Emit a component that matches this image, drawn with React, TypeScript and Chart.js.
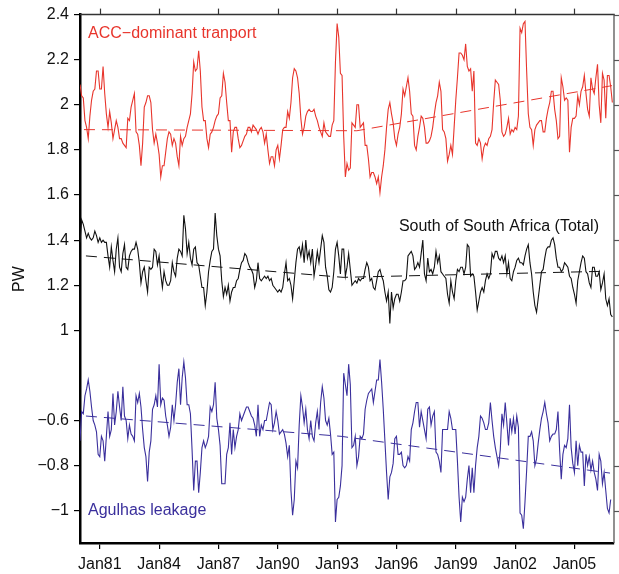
import React, { useEffect, useRef } from "react";
import { Chart, registerables } from "chart.js";

Chart.register(...registerables);

// Monthly series, Jan 1980 onwards
const START_YEAR = 1980;
const MONTHS_PER_YEAR = 12;

const ACC_TRANSPORT = [
  2.09, 2.04, 2.03, 1.93, 1.90, 1.85, 1.95, 2.02, 2.06, 2.07,
  2.15, 2.15, 2.07, 2.07, 2.17, 2.05, 1.96, 1.90, 1.97,
  1.92, 1.85, 1.89, 1.93, 1.90, 1.85, 1.85, 1.83, 1.82, 1.81,
  1.94, 1.93, 1.99, 2.02, 2.05, 1.88, 1.87, 1.82, 1.73, 1.83,
  1.99, 2.01, 2.04, 2.04, 2.01, 1.89, 1.83, 1.87, 1.83, 1.78,
  1.68, 1.73, 1.73, 1.79, 1.85, 1.88, 1.87, 1.82, 1.85,
  1.83, 1.77, 1.73, 1.86, 1.82, 1.85, 1.86, 1.90, 1.93, 1.96,
  2.05, 2.19, 2.15, 2.16, 2.24, 2.15, 1.99, 1.93, 1.93, 1.85,
  1.81, 1.87, 1.88, 1.90, 1.93, 1.95, 1.96, 2.03, 2.04, 2.14,
  2.10, 2.01, 1.93, 1.93, 1.79, 1.88, 1.90, 1.90, 1.85,
  1.81, 1.82, 1.84, 1.86, 1.87, 1.90, 1.90, 1.88, 1.91, 1.90,
  1.89, 1.87, 1.89, 1.90, 1.88, 1.83, 1.87, 1.80, 1.74, 1.77,
  1.77, 1.73, 1.80, 1.82, 1.76, 1.82, 1.89, 1.90, 1.90, 1.97,
  1.94, 2.01, 2.12, 2.16, 2.15, 2.12, 2.05, 1.94, 1.87, 1.90,
  1.95, 1.97, 1.98, 1.97, 1.97, 1.98, 1.95, 1.93, 1.90, 1.88,
  1.86, 1.92, 1.88, 1.87, 1.86, 1.86, 1.91, 1.93, 2.19, 2.36,
  2.30, 2.14, 2.13, 1.86, 1.68, 1.74, 1.71, 1.72, 1.92, 1.91,
  1.90, 2.00, 2.00, 1.90, 1.91, 1.92, 1.82, 1.82, 1.76, 1.68,
  1.70, 1.70, 1.68, 1.65, 1.68, 1.61, 1.68, 1.73, 1.80, 1.90,
  1.98, 2.01, 1.96, 1.92, 1.85, 1.82, 1.87, 1.90, 1.96, 2.07,
  2.04, 2.08, 2.12, 2.06, 1.96, 1.95, 1.82, 1.80, 1.86, 1.90,
  1.95, 1.94, 1.90, 1.83, 1.83, 1.84, 1.86, 1.90, 1.96, 2.01,
  2.04, 2.10, 2.06, 1.89, 1.88, 1.85, 1.75, 1.78, 1.82, 1.78,
  1.90, 2.02, 2.12, 2.23, 2.23, 2.22, 2.20, 2.27, 2.17, 2.15,
  2.16, 2.06, 2.15, 1.83, 1.82, 1.85, 1.83, 1.76, 1.81, 1.83,
  1.82, 1.85, 1.86, 1.89, 2.01, 2.11, 2.10, 2.09, 2.02, 1.88,
  1.86, 1.87, 1.90, 1.94, 1.87, 1.89, 1.88, 1.90, 1.89, 1.95,
  2.34, 2.32, 2.36, 2.37, 2.15, 1.96, 1.90, 1.89, 1.82, 1.89,
  1.91, 1.92, 1.93, 1.93, 1.88, 1.88, 1.94, 1.98, 2.01, 2.06,
  2.06, 1.98, 1.93, 1.85, 1.86, 2.12, 2.08, 2.02, 2.03, 2.02,
  1.79, 1.90, 1.94, 1.94, 1.95, 2.04, 2.00, 2.06, 2.08, 2.13,
  2.05, 1.98, 1.95, 2.12, 2.07, 2.05, 2.12, 2.18, 2.00, 1.92,
  2.14, 2.11, 1.94, 2.13, 2.13, 2.08, 2.01,
];

const TOTAL_TRANSPORT = [
  1.39, 1.49, 1.47, 1.44, 1.41, 1.43, 1.41, 1.40, 1.41, 1.44,
  1.42, 1.39, 1.41, 1.39, 1.40, 1.39, 1.39, 1.33, 1.28, 1.37,
  1.31, 1.26, 1.36, 1.41, 1.28, 1.26, 1.34, 1.38, 1.28, 1.27,
  1.33, 1.35, 1.36, 1.36, 1.39, 1.36, 1.30, 1.21, 1.26, 1.28,
  1.22, 1.17, 1.28, 1.27, 1.28, 1.36, 1.35, 1.29, 1.33, 1.25,
  1.19, 1.26, 1.22, 1.20, 1.20, 1.22, 1.30, 1.26, 1.24, 1.32,
  1.36, 1.35, 1.33, 1.51, 1.45, 1.34, 1.39, 1.32, 1.29, 1.36,
  1.37, 1.30, 1.29, 1.24, 1.19, 1.19, 1.11, 1.17, 1.26, 1.31,
  1.35, 1.36, 1.52, 1.42, 1.36, 1.33, 1.22, 1.15, 1.19, 1.16,
  1.20, 1.13, 1.17, 1.19, 1.19, 1.22, 1.23, 1.27, 1.30, 1.31,
  1.34, 1.33, 1.30, 1.28, 1.27, 1.25, 1.19, 1.22, 1.30, 1.23,
  1.22, 1.23, 1.24,
  1.23, 1.24, 1.22, 1.23, 1.20, 1.19, 1.18, 1.17,
  1.18, 1.17, 1.19, 1.25, 1.30, 1.22, 1.23, 1.20, 1.14, 1.22,
  1.30, 1.36, 1.37, 1.33, 1.38, 1.30, 1.40, 1.32, 1.35, 1.30,
  1.36, 1.24, 1.29, 1.35, 1.30, 1.36, 1.42, 1.39, 1.28, 1.24,
  1.18, 1.17, 1.19, 1.26, 1.36, 1.39,
  1.33, 1.25, 1.36, 1.36, 1.24, 1.28, 1.34, 1.27, 1.20, 1.21, 1.22,
  1.21, 1.23, 1.22, 1.23, 1.23, 1.27, 1.30, 1.28, 1.22, 1.23,
  1.19, 1.18, 1.22, 1.26, 1.27, 1.24, 1.22, 1.17, 1.13, 1.17,
  1.03, 1.17, 1.10, 1.14, 1.16, 1.16, 1.13, 1.17, 1.22, 1.22,
  1.23, 1.33, 1.34, 1.35, 1.33, 1.27, 1.28, 1.30, 1.28, 1.34,
  1.40, 1.25, 1.22, 1.32, 1.26, 1.27, 1.25, 1.28, 1.35, 1.30,
  1.33, 1.26, 1.25, 1.24, 1.23, 1.16, 1.12, 1.22, 1.17, 1.14,
  1.22, 1.27, 1.26, 1.28, 1.28, 1.25, 1.28, 1.38, 1.37, 1.24,
  1.25, 1.24, 1.17, 1.09, 1.13, 1.17, 1.19, 1.17, 1.22, 1.25,
  1.23, 1.25, 1.34, 1.32, 1.35, 1.35, 1.32, 1.31, 1.33, 1.30,
  1.33, 1.25, 1.30, 1.23, 1.22, 1.26, 1.28, 1.31, 1.32, 1.30,
  1.30, 1.29, 1.33, 1.36, 1.38, 1.30, 1.25, 1.17, 1.11, 1.08,
  1.14, 1.20, 1.26, 1.27, 1.32, 1.36, 1.37, 1.37, 1.40, 1.41,
  1.38, 1.32, 1.28, 1.28, 1.26, 1.27, 1.30, 1.29, 1.28, 1.24,
  1.23, 1.19, 1.16, 1.12, 1.22, 1.26, 1.30, 1.33, 1.32, 1.26,
  1.25, 1.21, 1.19, 1.28, 1.28, 1.24, 1.24, 1.26, 1.18, 1.21,
  1.25, 1.14, 1.11, 1.14, 1.07, 1.06,
];

const AGULHAS_LEAKAGE = [
  -0.69, -0.56, -0.57, -0.49, -0.46, -0.42, -0.47, -0.54, -0.60, -0.62,
  -0.65, -0.75, -0.76, -0.67, -0.69, -0.78, -0.67, -0.56, -0.67, -0.64,
  -0.48, -0.62, -0.56, -0.47, -0.54, -0.60, -0.45, -0.58, -0.60, -0.68,
  -0.62, -0.66, -0.67, -0.69, -0.49, -0.52, -0.48, -0.54, -0.64, -0.72,
  -0.76, -0.87, -0.74, -0.69, -0.55, -0.53, -0.49, -0.54, -0.35, -0.53,
  -0.50, -0.51, -0.58, -0.62, -0.67, -0.63, -0.53, -0.60, -0.53, -0.43,
  -0.37, -0.53, -0.41, -0.34, -0.41, -0.53, -0.53, -0.57, -0.73, -0.91,
  -0.78, -0.78, -0.92, -0.83, -0.72, -0.69, -0.72, -0.70, -0.67, -0.54,
  -0.56, -0.53, -0.43, -0.59, -0.64, -0.71, -0.88, -0.88, -0.88, -0.75,
  -0.72, -0.61, -0.75, -0.64, -0.72, -0.67, -0.64, -0.57, -0.60, -0.58,
  -0.56, -0.54, -0.54, -0.56, -0.58, -0.59, -0.62, -0.67, -0.53, -0.67,
  -0.62, -0.64, -0.60, -0.60, -0.56, -0.52, -0.53, -0.64, -0.61, -0.56,
  -0.60, -0.66, -0.65, -0.64, -0.66, -0.70, -0.76, -0.71, -0.91, -1.02,
  -0.95, -0.78, -0.81, -0.62, -0.49, -0.54, -0.61, -0.55, -0.64, -0.68,
  -0.60, -0.67, -0.69, -0.61, -0.56, -0.64, -0.52, -0.45, -0.50, -0.60,
  -0.62, -0.59, -0.66, -0.75, -0.74, -1.05, -0.95,
  -0.94, -0.89, -0.80, -0.39, -0.44, -0.49, -0.35, -0.44, -0.72, -0.71,
  -0.67, -0.80, -0.76, -0.67, -0.68, -0.66, -0.55, -0.51, -0.48, -0.47,
  -0.46, -0.52, -0.47, -0.42, -0.42, -0.33, -0.43, -0.55, -0.69, -0.83,
  -0.95, -0.85, -0.83, -0.79, -0.68, -0.67, -0.75, -0.75, -0.74, -0.80,
  -0.81, -0.80, -0.76, -0.78, -0.64, -0.61, -0.56, -0.52, -0.52, -0.63,
  -0.56, -0.60, -0.64, -0.68, -0.55, -0.54, -0.62, -0.58, -0.56, -0.74,
  -0.75, -0.78, -0.83, -0.64, -0.64, -0.64, -0.64, -0.56, -0.59, -0.64,
  -0.64, -0.64, -0.78, -0.94, -1.05, -0.94, -0.96, -0.94, -0.86, -0.80,
  -0.92, -0.81, -0.92, -0.80, -0.72, -0.67, -0.58, -0.59, -0.61, -0.64,
  -0.64, -0.61, -0.52, -0.60, -0.67, -0.72, -0.76, -0.80, -0.73, -0.57,
  -0.62, -0.52, -0.61, -0.71, -0.59, -0.65, -0.59, -0.66, -0.58, -0.63,
  -1.01, -1.02, -1.08, -0.96, -0.82, -0.67, -0.67, -0.65, -0.69, -0.80,
  -0.77, -0.70, -0.64, -0.59, -0.56, -0.52, -0.57, -0.61, -0.69, -0.67,
  -0.66, -0.66, -0.64, -0.56, -0.73, -0.86, -0.75, -0.71, -0.72, -0.68,
  -0.53, -0.72, -0.79, -0.83, -0.69, -0.80, -0.71, -0.74, -0.74, -0.89,
  -0.75, -0.80, -0.76, -0.82, -0.78, -0.83, -0.86, -0.91, -0.75, -0.78,
  -0.88, -0.83, -0.91, -0.99, -1.01, -0.95,
];

// Agulhas values are drawn shifted up by this amount (axis labels show true values)
const AGULHAS_OFFSET = 1.2;

const ACC_TREND_YEARS = [1980.2, 1994.0, 2006.9];
const ACC_TREND = [1.89, 1.885, 2.085];
const TOTAL_TREND_YEARS = [1980.3, 1993.3, 2006.6];
const TOTAL_TREND = [1.33, 1.235, 1.262];
const AGULHAS_TREND_YEARS = [1980.3, 1993.2, 2006.8];
const AGULHAS_TREND = [-0.58, -0.67, -0.833];

const X_TICK_YEARS = [1981, 1984, 1987, 1990, 1993, 1996, 1999, 2002, 2005];
const X_TICK_LABELS = ["Jan81", "Jan84", "Jan87", "Jan90", "Jan93", "Jan96", "Jan99", "Jan02", "Jan05"];
const Y_TICKS_UPPER = [2.4, 2.2, 2, 1.8, 1.6, 1.4, 1.2, 1];
const Y_TICK_LABELS_UPPER = ["2.4", "2.2", "2", "1.8", "1.6", "1.4", "1.2", "1"];
const Y_TICKS_AGULHAS = [-0.6, -0.8, -1];
const Y_TICK_LABELS_AGULHAS = ["\u22120.6", "\u22120.8", "\u22121"];

const X_MIN = 1980;
const X_MAX = 2007;
const Y_MIN = 0.057;
const Y_MAX = 2.4;

const RED = "#e8352c";
const BLUE = "#3a2f9c";
const BLACK = "#111111";
const FONT = '"Liberation Sans", Arial, Helvetica, sans-serif';

const monthly = (vals: number[], offset = 0) =>
  vals.map((v, i) => ({ x: START_YEAR + i / MONTHS_PER_YEAR, y: v + offset }));
const pairs = (xs: number[], ys: number[], offset = 0) =>
  xs.map((x, i) => ({ x, y: ys[i] + offset }));

const Y_PLOT_TICKS = [
  ...Y_TICKS_UPPER.map((v, i) => ({ value: v, label: Y_TICK_LABELS_UPPER[i] })),
  ...Y_TICKS_AGULHAS.map((v, i) => ({ value: v + AGULHAS_OFFSET, label: Y_TICK_LABELS_AGULHAS[i] })),
];

const framePlugin = {
  id: "frameAndLabels",
  afterDraw(chart: any) {
    const { ctx, chartArea, scales } = chart;
    const { left, right, top, bottom } = chartArea;
    ctx.save();
    // top frame + outward ticks
    ctx.strokeStyle = "#333";
    ctx.lineWidth = 1.5;
    ctx.beginPath();
    ctx.moveTo(left, top);
    ctx.lineTo(right + 0.75, top);
    ctx.stroke();
    ctx.lineWidth = 1.2;
    X_TICK_YEARS.forEach((yr) => {
      const x = Math.round(scales.x.getPixelForValue(yr)) + 0.5;
      ctx.beginPath();
      ctx.moveTo(x, top);
      ctx.lineTo(x, top - 6);
      ctx.stroke();
    });
    // right frame + outward ticks
    ctx.strokeStyle = "#555";
    ctx.lineWidth = 1.3;
    ctx.beginPath();
    ctx.moveTo(right, top);
    ctx.lineTo(right, bottom);
    ctx.stroke();
    ctx.lineWidth = 1.2;
    Y_PLOT_TICKS.forEach((t) => {
      const y = Math.round(scales.y.getPixelForValue(t.value)) + 0.5;
      ctx.beginPath();
      ctx.moveTo(right, y);
      ctx.lineTo(right + 6, y);
      ctx.stroke();
    });
    // series labels
    ctx.font = `16px ${FONT}`;
    ctx.textBaseline = "middle";
    ctx.textAlign = "left";
    ctx.fillStyle = RED;
    ctx.fillText("ACC\u2212dominant tranport", 88, 34);
    ctx.fillStyle = BLUE;
    ctx.fillText("Agulhas leakage", 88, 511);
    ctx.textAlign = "right";
    ctx.fillStyle = BLACK;
    ctx.fillText("South of South Africa (Total)", 599, 227);
    // axis title
    ctx.translate(20, 279);
    ctx.rotate(-Math.PI / 2);
    ctx.textAlign = "center";
    ctx.fillStyle = BLACK;
    ctx.fillText("PW", 0, 0);
    ctx.restore();
  },
};

export default function App() {
  const ref = useRef<HTMLCanvasElement | null>(null);

  useEffect(() => {
    if (!ref.current) return;
    const lineDs = (label: string, data: any[], color: string, dashed: boolean) => ({
      label,
      data,
      borderColor: color,
      backgroundColor: color,
      borderWidth: dashed ? 1 : 1.1,
      borderDash: dashed ? [11, 7] : [],
      pointRadius: 0,
      tension: 0,
      fill: false,
    });
    const chart = new Chart(ref.current, {
      type: "line",
      data: {
        datasets: [
          lineDs("ACC-dominant transport", monthly(ACC_TRANSPORT), RED, false),
          lineDs("ACC trend", pairs(ACC_TREND_YEARS, ACC_TREND), RED, true),
          lineDs("South of South Africa (Total)", monthly(TOTAL_TRANSPORT), BLACK, false),
          lineDs("Total trend", pairs(TOTAL_TREND_YEARS, TOTAL_TREND), BLACK, true),
          lineDs("Agulhas leakage", monthly(AGULHAS_LEAKAGE, AGULHAS_OFFSET), BLUE, false),
          lineDs("Agulhas trend", pairs(AGULHAS_TREND_YEARS, AGULHAS_TREND, AGULHAS_OFFSET), BLUE, true),
        ],
      },
      options: {
        responsive: false,
        devicePixelRatio: 1,
        animation: false,
        events: [],
        layout: { padding: { left: 0, right: 5, top: 11, bottom: 0 } },
        plugins: { legend: { display: false }, tooltip: { enabled: false } },
        scales: {
          x: {
            type: "linear",
            min: X_MIN,
            max: X_MAX,
            afterFit: (s: any) => {
              s.height = 31;
            },
            afterBuildTicks: (s: any) => {
              s.ticks = X_TICK_YEARS.map((v) => ({ value: v }));
            },
            ticks: {
              autoSkip: false,
              maxRotation: 0,
              padding: 6,
              color: BLACK,
              font: { size: 16, family: FONT },
              callback: (v: any) => {
                const i = X_TICK_YEARS.findIndex((y) => Math.abs(y - v) < 1e-6);
                return i >= 0 ? X_TICK_LABELS[i] : "";
              },
            },
            grid: {
              display: true,
              drawOnChartArea: false,
              drawTicks: true,
              tickLength: 6,
              color: "#000",
              lineWidth: 1.2,
            },
            border: { display: true, color: "#000", width: 2.5 },
          },
          y: {
            type: "linear",
            min: Y_MIN,
            max: Y_MAX,
            afterFit: (s: any) => {
              s.width = 80;
            },
            afterBuildTicks: (s: any) => {
              s.ticks = Y_PLOT_TICKS.map((t) => ({ value: t.value }));
            },
            ticks: {
              autoSkip: false,
              padding: 5,
              color: BLACK,
              font: { size: 16, family: FONT },
              callback: (v: any) => {
                const t = Y_PLOT_TICKS.find((k) => Math.abs(k.value - v) < 1e-6);
                return t ? t.label : "";
              },
            },
            grid: {
              display: true,
              drawOnChartArea: false,
              drawTicks: true,
              tickLength: 6,
              color: "#000",
              lineWidth: 1.2,
            },
            border: { display: true, color: "#000", width: 2.5 },
          },
        },
      },
      plugins: [framePlugin],
    } as any);
    return () => chart.destroy();
  }, []);

  return (
    <div style={{ position: "absolute", left: 0, top: 0, width: 619, height: 574, background: "#fff" }}>
      <canvas ref={ref} width={619} height={574} style={{ display: "block" }} />
    </div>
  );
}
